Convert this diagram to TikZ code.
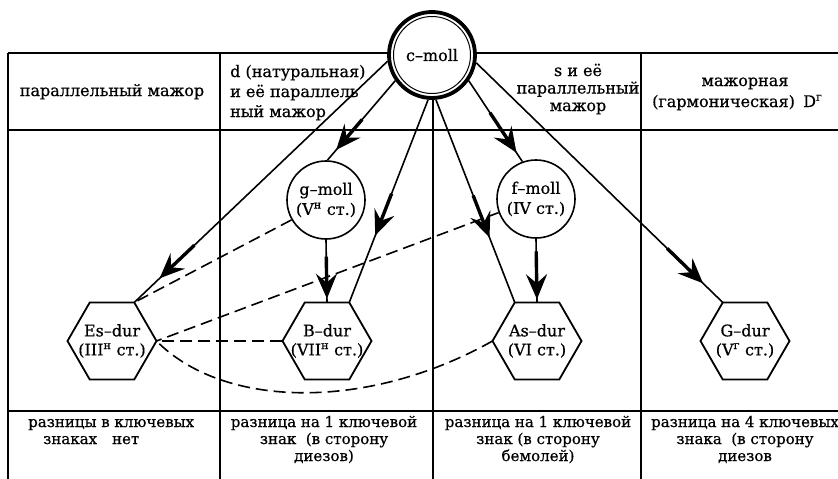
\documentclass[tikz,border=0pt]{standalone}
\usepackage{fontspec}
\setmainfont{DejaVu Serif}[FakeBold=0.6]
\usetikzlibrary{arrows.meta,shapes.geometric,calc}
\begin{document}
\begin{tikzpicture}[x=1pt,y=-1pt,
  tbl/.style={line width=1.8pt},
  conn/.style={line width=1.6pt},
  dsh/.style={line width=1.6pt, dash pattern=on 12pt off 6pt},
  thk/.style={line width=3.4pt, -{Stealth[length=25pt,width=21pt,inset=9pt]}},
  minor/.style={circle, draw, line width=1.6pt, fill=white, minimum size=78pt, inner sep=0pt, font=\fontsize{16}{20}\selectfont, align=center},
  major/.style={circle, draw, line width=3.8pt, fill=white, minimum size=86pt, inner sep=0pt, font=\fontsize{16}{20}\selectfont},
  hexa/.style={regular polygon, regular polygon sides=6, draw, line width=1.8pt, fill=white, minimum size=89pt, inner sep=0pt, outer sep=0pt},
  hexlabel/.style={font=\fontsize{16}{19}\selectfont, align=center, inner sep=0pt},
  txt/.style={font=\fontsize{16}{20}\selectfont, inner sep=0pt},
  ftxt/.style={font=\fontsize{15}{17}\selectfont, inner sep=0pt},
]
\useasboundingbox (0,0) rectangle (838,479);
\fill[white] (0,0) rectangle (838,479);
% table
\draw[tbl] (8,53) -- (838,53);
\draw[tbl] (8,130) -- (838,130);
\draw[tbl] (8,411) -- (838,411);
\draw[tbl] (8,53) -- (8,479);
\draw[tbl] (220,53) -- (220,479);
\draw[tbl] (433,53) -- (433,479);
\draw[tbl] (641,53) -- (641,479);
% header texts (base anchor = baseline of last line)
\node[txt, anchor=base] (h1) at (112,96) {параллельный мажор};
\node[txt, align=left, anchor=base west] (h2) at (230,117) {d (натуральная)\\и её параллель\\ный мажор};
\node[txt, align=center, font=\fontsize{16}{17.5}\selectfont, anchor=base] (h3) at (578,111) {s и её\\параллельный\\мажор};
\node[txt, anchor=base] (h4a) at (745,86) {мажорная};
\node[txt, anchor=base west] (h4b) at (652,107) {(гармоническая)};
\node[txt, anchor=base west] (h4c) at (803,107) {D\textsuperscript{г}};
% footer texts
\node[ftxt, align=left, anchor=base west] (f1) at (28,444) {разницы в ключевых\\\hspace{15pt}знаках\quad нет};
\node[ftxt, align=center, anchor=base] (f2) at (324,461) {разница на 1 ключевой\\знак\ \ (в сторону\\диезов)};
\node[ftxt, align=center, anchor=base] (f3) at (538,461) {разница на 1 ключевой\\знак (в сторону\\бемолей)};
\node[ftxt, align=center, anchor=base] (f4) at (745,461) {разница на 4 ключевых\\знака\ \ (в сторону\\диезов};
% nodes
\node[major] (cm) at (432,55) {c–moll};
\draw[line width=1pt] (cm.center) circle (38.5pt);
\node[minor] (gm) at (326,200) {g–moll\\(V\textsuperscript{н} ст.)};
\node[minor] (fm) at (536,199) {f–moll\\(IV ст.)};
\node[hexa] (Es) at (112,341) {};
\node[hexlabel] (EsL) at (Es.center) {Es–dur\\(III\textsuperscript{н} ст.)};
\node[hexa] (Bd) at (327,341) {};
\node[hexlabel] (BdL) at (Bd.center) {B–dur\\(VII\textsuperscript{н} ст.)};
\node[hexa] (As) at (537,341) {};
\node[hexlabel] (AsL) at (As.center) {As–dur\\(VI ст.)};
\node[hexa] (Gd) at (745,341) {};
\node[hexlabel] (GdL) at (Gd.center) {G–dur\\(V\textsuperscript{г} ст.)};
% solid connectors with arrows
\draw[conn] (cm.188) -- coordinate[pos=0.90] (t1) (Es.60);
\draw[thk] ($(t1)!48pt!(cm.188)$) -- (t1);
\draw[conn] (cm.215) -- coordinate[pos=0.87] (t2) (gm.88);
\draw[thk] ($(t2)!40pt!(cm.215)$) -- (t2);
\draw[conn] (cm.265) -- coordinate[pos=0.67] (t3) (Bd.60);
\draw[thk] ($(t3)!45pt!(cm.265)$) -- (t3);
\draw[conn] (gm.270) -- coordinate[pos=0.94] (t4) (Bd.90);
\draw[thk] ($(t4)!42pt!(gm.270)$) -- (t4);
\draw[conn] (cm.275) -- coordinate[pos=0.68] (t5) (As.120);
\draw[thk] ($(t5)!45pt!(cm.275)$) -- (t5);
\draw[conn] (cm.325) -- coordinate[pos=0.89] (t6) (fm.110);
\draw[thk] ($(t6)!48pt!(cm.325)$) -- (t6);
\draw[conn] (fm.270) -- coordinate[pos=0.95] (t7) (As.90);
\draw[thk] ($(t7)!48pt!(fm.270)$) -- (t7);
\draw[conn] (cm.350) -- coordinate[pos=0.92] (t8) (Gd.120);
\draw[thk] ($(t8)!50pt!(cm.350)$) -- (t8);
% dashed connectors
\draw[dsh] (gm.210) -- (Es.60);
\draw[dsh] (fm.200) -- (Es.0);
\draw[dsh] (Bd.180) -- (Es.0);
\draw[dsh] (As.180) .. controls (370,410) and (225,410) .. (Es.0);
\end{tikzpicture}
\end{document}
